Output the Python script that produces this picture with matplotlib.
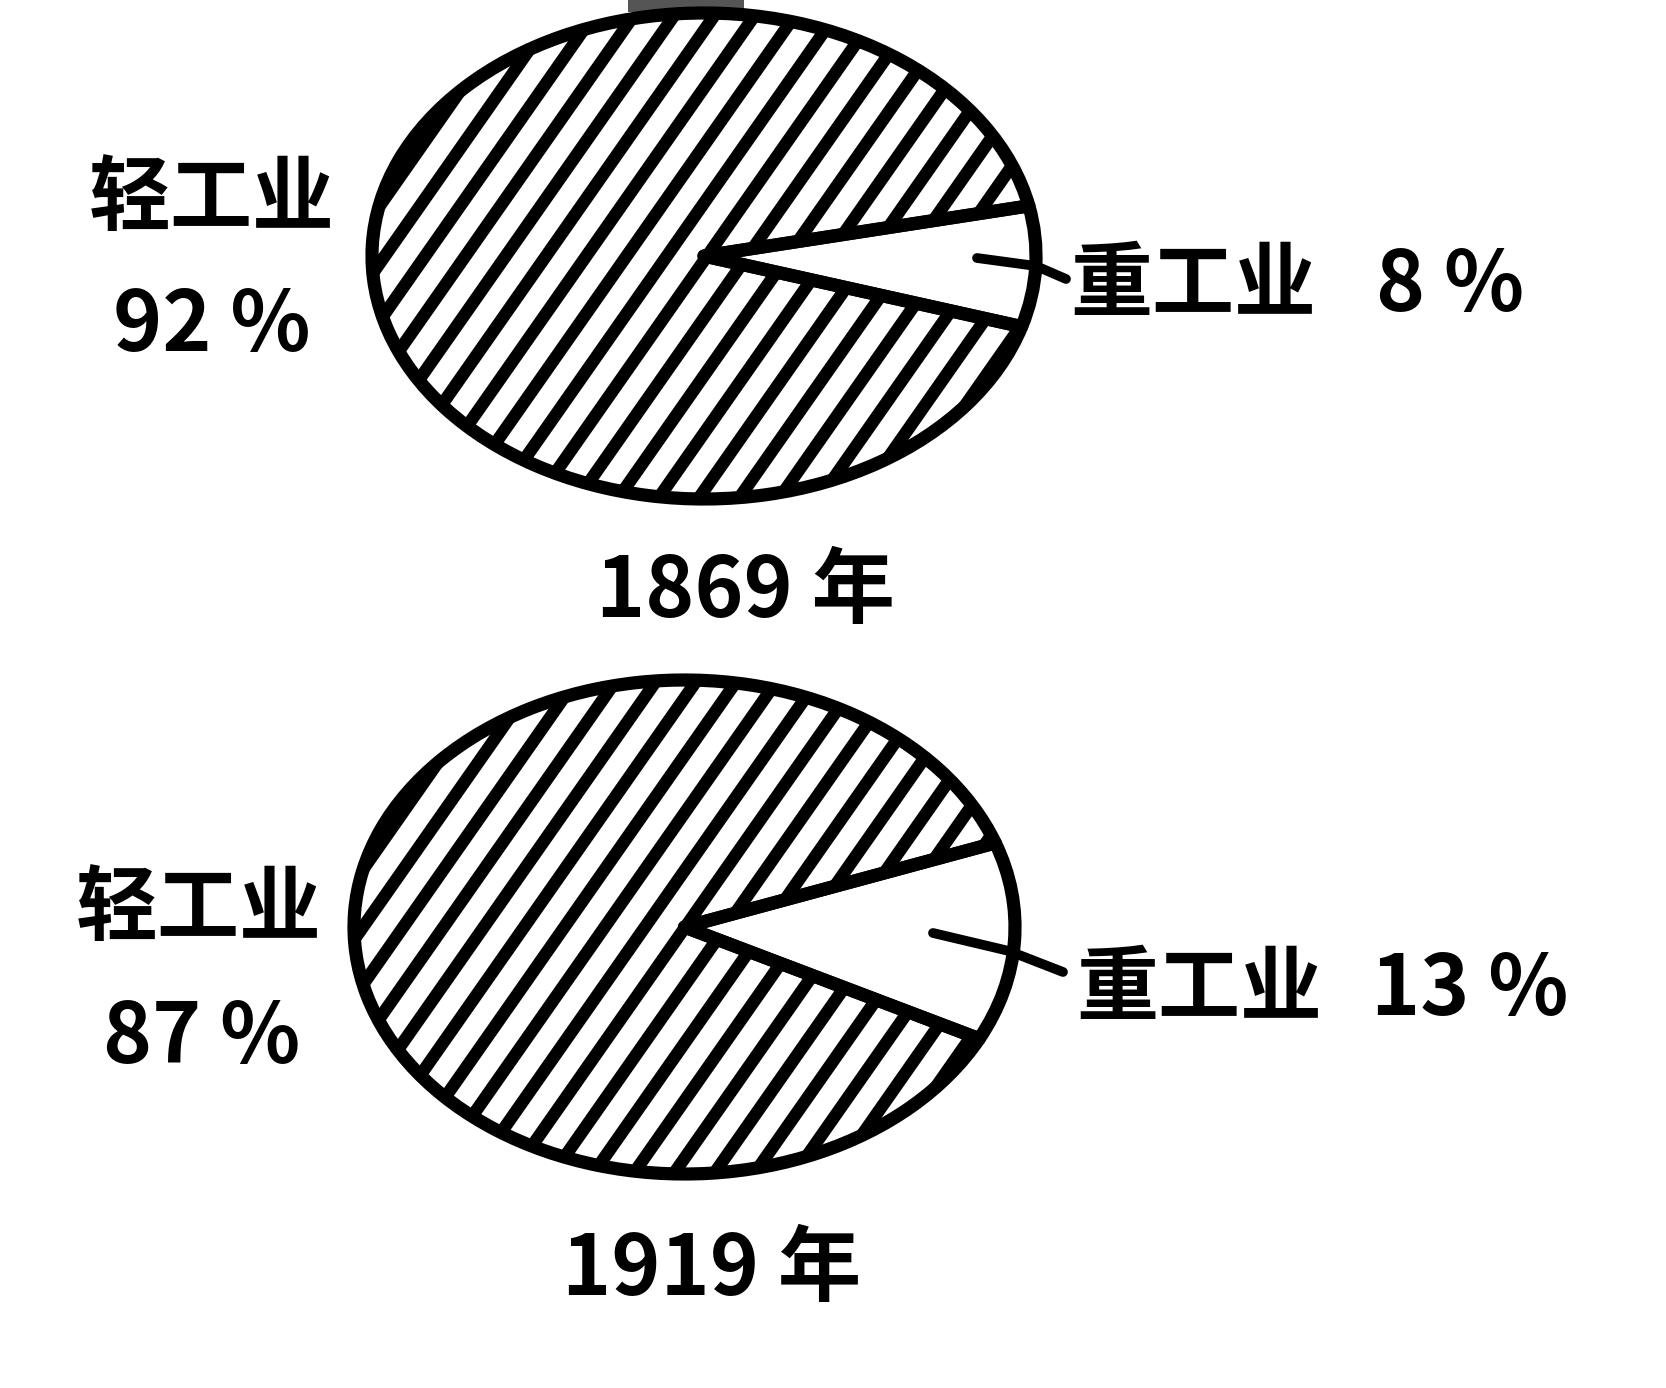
import matplotlib
matplotlib.use('Agg')
import matplotlib.pyplot as plt
import numpy as np

plt.rcParams['font.family'] = ['Noto Sans CJK SC', 'DejaVu Sans']

# data
years = ['1869 年', '1919 年']
names = ['轻工业', '重工业']
light = [92, 87]
heavy = [8, 13]
start_angles = [11.9, 19.9]

W, H = 1666, 1388
# pie boxes in pixels: left, top, right, bottom
boxes = [(372, 13, 1036, 499), (354, 680, 1015, 1174)]


def hatch(ax, wedge, rx, ry, spacing=33, angle=55):
    a = np.deg2rad(angle)
    u = np.array([np.cos(a), np.sin(a)])
    n = np.array([-np.sin(a), np.cos(a)])
    R = max(rx, ry) * 1.3
    for d in np.arange(-R, R, spacing):
        p0 = d * n - R * u
        p1 = d * n + R * u
        ax.plot([p0[0] / rx, p1[0] / rx], [p0[1] / ry, p1[1] / ry],
                color='black', lw=9, solid_capstyle='butt',
                clip_path=wedge, zorder=1)


def draw_pie(fig, i):
    l, t, r, b = boxes[i]
    ax = fig.add_axes([l / W, 1 - b / H, (r - l) / W, (b - t) / H])
    wedges, _ = ax.pie([light[i], heavy[i]], startangle=start_angles[i],
                       colors=['none', 'none'],
                       wedgeprops=dict(edgecolor='black', linewidth=9.5,
                                       joinstyle='round'))
    for w in wedges:
        w.set_clip_on(False)
        w.set_zorder(2)
    hatch(ax, wedges[0], (r - l) / 2, (b - t) / 2)
    ax.set_aspect('auto')
    ax.set_xlim(-1, 1)
    ax.set_ylim(-1, 1)
    ax.axis('off')


def main():
    fig = plt.figure(figsize=(W / 100, H / 100), dpi=100)
    fig.patch.set_facecolor('white')

    ov = fig.add_axes([0, 0, 1, 1])
    ov.set_xlim(0, W)
    ov.set_ylim(H, 0)
    ov.axis('off')

    # grey smudge at the top edge of the scan
    ov.add_patch(plt.Rectangle((628, 0), 116, 12, color='#555555', lw=0))

    for i in range(2):
        draw_pie(fig, i)

    name_kw = dict(fontsize=59, fontweight='bold', va='center', color='black')
    num_kw = dict(fontsize=60, fontweight='bold', va='center', color='black')

    # 1869
    ov.text(212, 200, names[0], ha='center', **name_kw)
    ov.text(212, 326, f'{light[0]} %', ha='center', **num_kw)
    ov.text(1070, 286, names[1], ha='left', **name_kw)
    ov.text(1376, 286, f'{heavy[0]} %', ha='left', **num_kw)
    ov.text(746, 592, years[0], ha='center', **num_kw)
    ov.plot([977, 1036, 1066], [258, 266, 279], color='black', lw=7,
            solid_capstyle='round')

    # 1919
    ov.text(199, 910, names[0], ha='center', **name_kw)
    ov.text(202, 1039, f'{light[1]} %', ha='center', **num_kw)
    ov.text(1076, 990, names[1], ha='left', **name_kw)
    ov.text(1371, 990, f'{heavy[1]} %', ha='left', **num_kw)
    ov.text(712, 1270, years[1], ha='center', **num_kw)
    ov.plot([933, 1009, 1063], [933, 951, 972], color='black', lw=7,
            solid_capstyle='round')

    fig.savefig('out.png', dpi=100, facecolor='white')


if __name__ == "__main__":
    main()
